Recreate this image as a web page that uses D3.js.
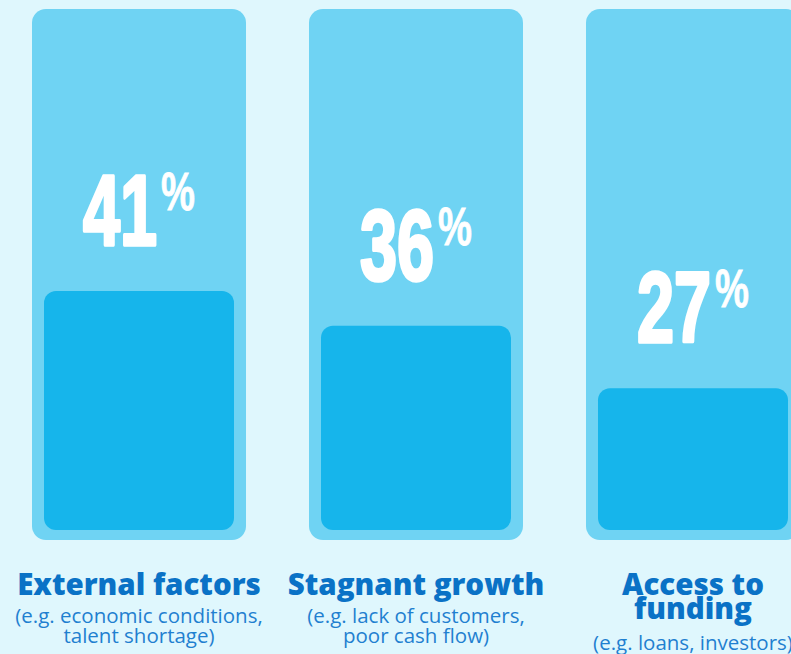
<!DOCTYPE html>
<html>
<head>
<meta charset="utf-8">
<script src="https://cdn.jsdelivr.net/npm/d3@7"></script>
<style>
  html, body { margin: 0; padding: 0; background: #dff7fd; }
  svg { display: block; }
</style>
</head>
<body>
<svg id="chart" width="791" height="654"></svg>
<script>
// Share of respondents naming each challenge
const categories = ["External factors", "Stagnant growth", "Access to funding"];
const values = [41, 36, 27];
const headingLines = [["External factors"], ["Stagnant growth"], ["Access to", "funding"]];
const noteLines = [
  ["(e.g. economic conditions,", "talent shortage)"],
  ["(e.g. lack of customers,", "poor cash flow)"],
  ["(e.g. loans, investors)"]
];

const W = 791, H = 654;
const svg = d3.select("#chart");

const colors = {
  bg: "#dff7fd",
  track: "#6fd3f3",
  bar: "#16b5eb",
  heading: "#0a72c6",
  note: "#1f80d0"
};

svg.append("rect").attr("width", W).attr("height", H).attr("fill", colors.bg);

const x = d3.scaleBand()
  .domain(categories)
  .range([32, 800])
  .paddingInner(0.2274)
  .paddingOuter(0);

const trackTop = 9, trackBottom = 540, barBottom = 530, inset = 12;
const y = d3.scaleLinear().domain([6.6, 41]).range([barBottom, 291]);

const data = categories.map((c, i) => ({
  cat: c, value: values[i], heading: headingLines[i], note: noteLines[i]
}));

const g = svg.selectAll("g.col").data(data).join("g").attr("class", "col");

// background track
g.append("rect")
  .attr("x", d => x(d.cat))
  .attr("y", trackTop)
  .attr("width", x.bandwidth())
  .attr("height", trackBottom - trackTop)
  .attr("rx", 14)
  .attr("fill", colors.track);

// value bar
g.append("rect")
  .attr("x", d => x(d.cat) + inset)
  .attr("y", d => y(d.value))
  .attr("width", x.bandwidth() - 2 * inset)
  .attr("height", d => barBottom - y(d.value))
  .attr("rx", 12)
  .attr("fill", colors.bar);

// big condensed percentage label above each bar
const numFont = "'Liberation Sans Narrow', 'Liberation Sans', Arial, sans-serif";
g.each(function (d) {
  const cx = x(d.cat) + x.bandwidth() / 2;
  const base = y(d.value) - 46;
  const lab = d3.select(this).append("g");
  const num = lab.append("text")
    .attr("y", base)
    .attr("font-family", numFont)
    .attr("font-weight", 700)
    .attr("font-size", 101)
    .attr("fill", "#fff")
    .attr("stroke", "#fff")
    .attr("stroke-width", 3.5)
    .attr("stroke-linejoin", "round")
    .text(d.value);
  const pct = lab.append("text")
    .attr("y", base - 35)
    .attr("font-family", numFont)
    .attr("font-weight", 700)
    .attr("font-size", 53)
    .attr("fill", "#fff")
    .attr("stroke", "#fff")
    .attr("stroke-width", 0.8)
    .text("%");
  const sxNum = 0.66, sxPct = 0.72;
  const nw = num.node().getComputedTextLength() * sxNum;
  const pw = pct.node().getComputedTextLength() * sxPct;
  const gap = 4;
  const total = nw + gap + pw;
  const x0 = cx - total / 2;
  num.attr("transform", `translate(${x0},0) scale(${sxNum},1)`);
  pct.attr("transform", `translate(${x0 + nw + gap},0) scale(${sxPct},1)`);
});

// category headings and notes
const textFont = "'Open Sans', 'Noto Sans', sans-serif";
g.each(function (d) {
  const cx = x(d.cat) + x.bandwidth() / 2;
  const sel = d3.select(this);
  const headBase = 595, headStep = 24;
  d.heading.forEach((line, i) => {
    sel.append("text")
      .attr("x", cx).attr("y", headBase + i * headStep)
      .attr("text-anchor", "middle")
      .attr("font-family", textFont)
      .attr("font-weight", 800)
      .attr("font-size", 29.5)
      .attr("fill", colors.heading)
      .text(line);
  });
  const noteGap = d.heading.length > 1 ? 31 : 28;
  const noteBase = headBase + (d.heading.length - 1) * headStep + noteGap;
  d.note.forEach((line, i) => {
    sel.append("text")
      .attr("x", cx).attr("y", noteBase + i * 19.5)
      .attr("text-anchor", "middle")
      .attr("font-family", textFont)
      .attr("font-weight", 400)
      .attr("font-size", 20.5)
      .attr("fill", colors.note)
      .text(line);
  });
});
</script>
</body>
</html>
